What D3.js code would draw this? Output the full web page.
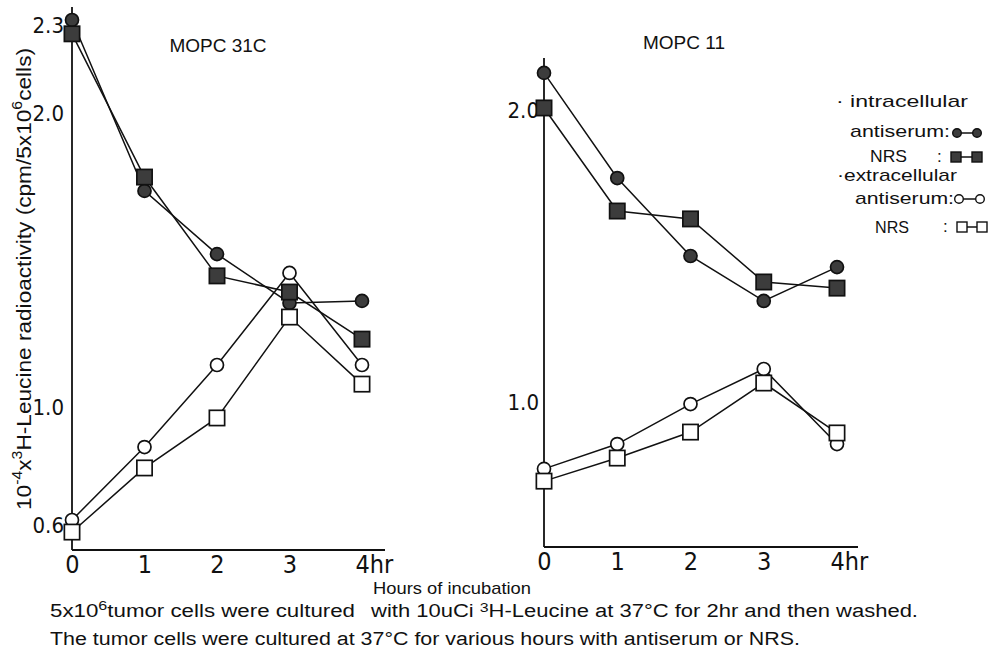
<!DOCTYPE html>
<html>
<head>
<meta charset="utf-8">
<script src="https://cdn.jsdelivr.net/npm/d3@7/dist/d3.min.js"></script>
<style>
  html, body { margin: 0; padding: 0; background: #fff; }
  svg { display: block; }
  text { font-family: "Liberation Sans", Arial, sans-serif; fill: #111; }
  .narrow { font-family: "Liberation Sans Narrow", "DejaVu Sans Condensed", "Liberation Sans", sans-serif; }
</style>
</head>
<body>
<svg id="chart" width="997" height="650"></svg>
<script>
// ---------- data ----------
const hours = [0, 1, 2, 3, 4];
const panelTitles = ["MOPC 31C", "MOPC 11"];

// MOPC 31C
const m31_intra_antiserum = [2.317, 1.736, 1.521, 1.355, 1.362];
const m31_intra_nrs       = [2.270, 1.783, 1.447, 1.392, 1.232];
const m31_extra_antiserum = [0.617, 0.865, 1.144, 1.457, 1.144];
const m31_extra_nrs       = [0.576, 0.794, 0.964, 1.307, 1.079];

// MOPC 11
const m11_intra_antiserum = [2.127, 1.767, 1.500, 1.346, 1.462];
const m11_intra_nrs       = [2.007, 1.654, 1.627, 1.411, 1.390];
const m11_extra_antiserum = [0.771, 0.856, 0.993, 1.113, 0.856];
const m11_extra_nrs       = [0.729, 0.808, 0.897, 1.065, 0.894];

const leftYTicks = [0.6, 1.0, 2.0, 2.3];
const rightYTicks = [1.0, 2.0];
const xTicks = [0, 1, 2, 3, 4];

const yLabelParts = ["10", "-4", "x", "3", "H-Leucine radioactivity (cpm/5x10", "6", "cells)"];
const xTitle = "Hours of incubation";
const legendHeads = ["· intracellular", "·extracellular"];
const legendNames = ["antiserum:", "NRS", ":"];

// ---------- layout ----------
const svg = d3.select("#chart");
const ink = "#111";
const markFill = "#3c3c3c";

const panels = [
  {
    title: panelTitles[0], titleX: 218, titleY: 52,
    x: d3.scaleLinear().domain([0, 4]).range([72, 362]),
    y: d3.scaleLinear().domain([0.6, 2.3]).range([525, 25]),
    yTop: 7, yBottom: 550, xRight: 385, yPad: 8,
    yTicks: leftYTicks,
    series: [
      { v: m31_intra_antiserum, shape: "circle", filled: true },
      { v: m31_intra_nrs, shape: "square", filled: true },
      { v: m31_extra_antiserum, shape: "circle", filled: false },
      { v: m31_extra_nrs, shape: "square", filled: false }
    ]
  },
  {
    title: panelTitles[1], titleX: 684, titleY: 49,
    x: d3.scaleLinear().domain([0, 4]).range([544, 837]),
    y: d3.scaleLinear().domain([1.0, 2.0]).range([402, 110]),
    yTop: 58, yBottom: 547, xRight: 858, yPad: 5,
    yTicks: rightYTicks,
    series: [
      { v: m11_intra_antiserum, shape: "circle", filled: true },
      { v: m11_intra_nrs, shape: "square", filled: true },
      { v: m11_extra_antiserum, shape: "circle", filled: false },
      { v: m11_extra_nrs, shape: "square", filled: false }
    ]
  }
];

function drawMarker(g, shape, filled, cx, cy, size) {
  if (shape === "circle") {
    g.append("circle").attr("cx", cx).attr("cy", cy).attr("r", size)
      .attr("fill", filled ? markFill : "#fff").attr("stroke", ink).attr("stroke-width", 1.7);
  } else {
    const s = size * 2.35;
    g.append("rect").attr("x", cx - s / 2).attr("y", cy - s / 2).attr("width", s).attr("height", s)
      .attr("fill", filled ? markFill : "#fff").attr("stroke", ink).attr("stroke-width", 1.7);
  }
}

panels.forEach(p => {
  const g = svg.append("g");
  const x0 = p.x(0);

  // axis lines
  g.append("line").attr("x1", x0).attr("x2", x0).attr("y1", p.yTop).attr("y2", p.yBottom)
    .attr("stroke", ink).attr("stroke-width", 1.8);
  g.append("line").attr("x1", x0).attr("x2", p.xRight).attr("y1", p.yBottom).attr("y2", p.yBottom)
    .attr("stroke", ink).attr("stroke-width", 1.8);

  // y axis labels
  const ya = g.append("g").attr("transform", `translate(${x0},0)`)
    .call(d3.axisLeft(p.y).tickValues(p.yTicks).tickSize(0).tickPadding(p.yPad).tickFormat(d3.format(".1f")));
  ya.select(".domain").remove();
  ya.attr("font-family", null).attr("font-size", null);
  ya.selectAll("text").attr("class", "narrow").style("font-size", "22px").attr("fill", ink);

  // x axis labels
  const xa = g.append("g").attr("transform", `translate(0,${p.yBottom + 5})`)
    .call(d3.axisBottom(p.x).tickValues(xTicks).tickSize(0).tickPadding(0).tickFormat(d => d === 4 ? "4hr" : String(d)));
  xa.select(".domain").remove();
  xa.attr("font-family", null).attr("font-size", null);
  xa.selectAll("text").attr("class", "narrow").style("font-size", "25px").attr("fill", ink)
    .filter(d => d === 4).attr("text-anchor", "start").attr("dx", "-7");

  // title
  g.append("text").attr("x", p.titleX).attr("y", p.titleY).attr("text-anchor", "middle")
    .style("font-size", "19px").text(p.title);

  // lines
  const line = d3.line().x((d, i) => p.x(hours[i])).y(d => p.y(d));
  p.series.forEach(s => {
    g.append("path").attr("d", line(s.v)).attr("fill", "none").attr("stroke", ink).attr("stroke-width", 1.5);
  });
  // markers
  p.series.forEach(s => {
    s.v.forEach((v, i) => drawMarker(g, s.shape, s.filled, p.x(hours[i]), p.y(v), 6.5));
  });
});

// y axis title (rotated)
const yt = svg.append("text")
  .attr("transform", "translate(31,279) rotate(-90)")
  .attr("text-anchor", "middle")
  .attr("textLength", 462).attr("lengthAdjust", "spacingAndGlyphs")
  .style("font-size", "20px");
yt.append("tspan").text(yLabelParts[0]);
yt.append("tspan").attr("dy", -9).style("font-size", "14px").text(yLabelParts[1]);
yt.append("tspan").attr("dy", 9).text(yLabelParts[2]);
yt.append("tspan").attr("dy", -9).style("font-size", "14px").text(yLabelParts[3]);
yt.append("tspan").attr("dy", 9).text(yLabelParts[4]);
yt.append("tspan").attr("dy", -9).style("font-size", "14px").text(yLabelParts[5]);
yt.append("tspan").attr("dy", 9).text(yLabelParts[6]);

// legend
const lg = svg.append("g").style("font-size", "17px");
function ltext(x, y, w, t) {
  lg.append("text").attr("x", x).attr("y", y).attr("textLength", w).attr("lengthAdjust", "spacingAndGlyphs").text(t);
}
ltext(836, 107, 132, legendHeads[0]);
ltext(850, 137, 100, legendNames[0]);
ltext(870, 162, 37, legendNames[1]);
lg.append("text").attr("x", 937).attr("y", 162).text(legendNames[2]);
ltext(837, 181, 120, legendHeads[1]);
ltext(855, 204, 99, legendNames[0]);
ltext(875, 233, 34, legendNames[1]);
lg.append("text").attr("x", 943).attr("y", 232).text(legendNames[2]);

function legendGlyph(x1, x2, y, shape, filled) {
  lg.append("line").attr("x1", x1).attr("x2", x2).attr("y1", y).attr("y2", y).attr("stroke", ink).attr("stroke-width", 1.5);
  [x1, x2].forEach(xx => {
    if (shape === "circle") {
      lg.append("circle").attr("cx", xx).attr("cy", y).attr("r", 4.3)
        .attr("fill", filled ? markFill : "#fff").attr("stroke", ink).attr("stroke-width", 1.4);
    } else {
      lg.append("rect").attr("x", xx - 5).attr("y", y - 5).attr("width", 10).attr("height", 10)
        .attr("fill", filled ? markFill : "#fff").attr("stroke", ink).attr("stroke-width", 1.4);
    }
  });
}
legendGlyph(957, 977, 133, "circle", true);
legendGlyph(956, 977, 157, "square", true);
legendGlyph(959, 980, 199, "circle", false);
legendGlyph(962, 982, 227, "square", false);

// bottom texts
const bt = svg.append("g").style("font-size", "18px");
bt.append("text").attr("x", 373).attr("y", 594).style("font-size", "17px")
  .attr("textLength", 158).attr("lengthAdjust", "spacingAndGlyphs").text(xTitle);

const l2a = bt.append("text").attr("x", 50).attr("y", 617).attr("textLength", 305).attr("lengthAdjust", "spacingAndGlyphs");
l2a.append("tspan").text("5x10");
l2a.append("tspan").attr("dy", -7).style("font-size", "13px").text("6");
l2a.append("tspan").attr("dy", 7).text("tumor cells were cultured");

const l2b = bt.append("text").attr("x", 371).attr("y", 617).attr("textLength", 547).attr("lengthAdjust", "spacingAndGlyphs");
l2b.append("tspan").text("with 10uCi ");
l2b.append("tspan").attr("dy", -5).style("font-size", "13px").text("3");
l2b.append("tspan").attr("dy", 5).text("H-Leucine at 37°C for 2hr and then washed.");

bt.append("text").attr("x", 50).attr("y", 645).attr("textLength", 750).attr("lengthAdjust", "spacingAndGlyphs")
  .text("The tumor cells were cultured at 37°C for various hours with antiserum or NRS.");
</script>
</body>
</html>
